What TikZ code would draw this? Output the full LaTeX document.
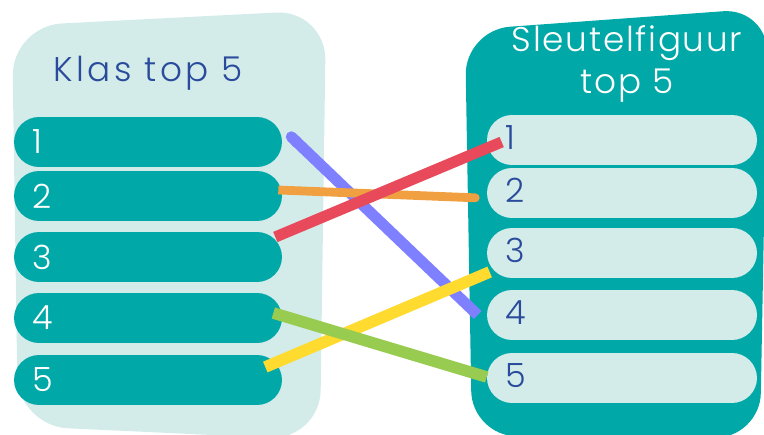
\documentclass[tikz,border=0pt]{standalone}
\usepackage{fontspec}
\setmainfont{Poppins}[UprightFont={* Light}]
\usetikzlibrary{calc,arrows.meta}

\definecolor{lightteal}{HTML}{D3ECEA}
\definecolor{darkteal}{HTML}{00A8A7}
\definecolor{inkblue}{HTML}{2A4B9B}
\definecolor{lineblue}{HTML}{7F80FF}
\definecolor{lineorange}{HTML}{F0A040}
\definecolor{linered}{HTML}{E84A5C}
\definecolor{lineyellow}{HTML}{FFDA2F}
\definecolor{linegreen}{HTML}{98CC50}

\tikzset{
  klasbar/.style={fill=darkteal, rounded corners=0.5cm, minimum height=1cm,
    text width=4.64cm, inner xsep=0.36cm, align=left, text=white,
    font=\fontsize{19}{22}\selectfont},
  sleutelbar/.style={klasbar, fill=lightteal, text=inkblue, text width=4.68cm},
  paneltitle/.style={font=\fontsize{19.5}{24.4}\selectfont\addfontfeatures{LetterSpace=#1}},
  link/.style={line width=6.3pt}
}

\begin{document}
\begin{tikzpicture}[x=0.02cm, y=-0.02cm]
    \useasboundingbox (0,0) rectangle (764,435);

    % Panel left (klas)
    \fill[lightteal, rounded corners=1cm] (18,426) -- (12,26) -- (326,10) -- (320,440) -- cycle;
    \node[paneltitle=10, text=inkblue, anchor=base] (klastitle) at (148,82) {Klas top 5};

    % Panel right (sleutelfiguur)
    \fill[darkteal, rounded corners=0.9cm] (472,436) -- (465,30) -- (768,8) -- (760,438) -- cycle;
    \node[paneltitle=5, text=white, align=center] (sleuteltitle) at (627,64) {Sleutelfiguur\\top 5};

    % Ranking bars
    \foreach \i/\y in {1/142,2/196,3/257,4/318,5/380}
        \node[klasbar] (l\i) at (148,\y) {\i};
    \foreach \i/\y in {1/140,2/193,3/253,4/315,5/378}
        \node[sleutelbar] (r\i) at (622,\y) {\raisebox{3pt}{\i}};

    % Links between both rankings
    \draw[link, lineblue, {Round Cap[]}-] ($(l1.east)+(5,-9)$) -- ($(r4.west)+(-9,0)$);
    \draw[link, lineorange, line width=5pt, -{Round Cap[]}] ($(l2.east)+(-4,-6)$) -- ($(r2.west)+(-7,5)$);
    \draw[link, linered] ($(l3.east)+(-7,-20)$) -- ($(r1.west)+(15,2)$);
    \draw[link, lineyellow, line width=6.6pt] ($(l5.east)+(-17,-13)$) -- ($(r3.west)+(3,19)$);
    \draw[link, linegreen, line width=6.6pt] ($(l4.east)+(-9,-5)$) -- ($(r5.west)+(0,-1)$);
\end{tikzpicture}
\end{document}
